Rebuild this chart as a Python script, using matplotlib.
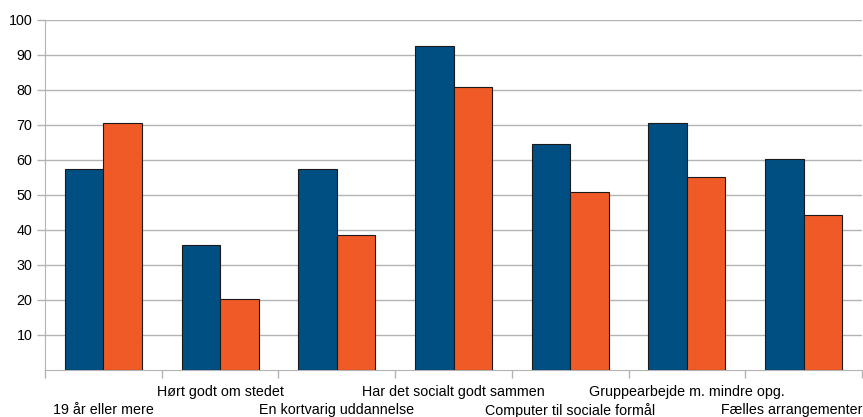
import matplotlib
matplotlib.use("Agg")
import matplotlib.pyplot as plt
import numpy as np

categories = ["19 år eller mere", "Hørt godt om stedet", "En kortvarig uddannelse",
              "Har det socialt godt sammen", "Computer til sociale formål",
              "Gruppearbejde m. mindre opg.", "Fælles arrangementer"]
series1 = [57.3, 35.7, 57.4, 92.3, 64.6, 70.5, 60.3]
series2 = [70.5, 20.2, 38.5, 80.6, 50.7, 55.2, 44.2]
yticks = [10, 20, 30, 40, 50, 60, 70, 80, 90, 100]

plt.rcParams['font.family'] = ['Liberation Sans', 'DejaVu Sans']

fig = plt.figure(figsize=(8.63, 4.17), dpi=100)
ax = fig.add_axes([45 / 863, 47 / 417, 817 / 863, 350.5 / 417])

x = np.arange(len(categories)) + 0.5
w = 0.33
ax.bar(x - w / 2, series1, w, color="#004f82", edgecolor="#1a1a1a", linewidth=0.8, zorder=3)
ax.bar(x + w / 2, series2, w, color="#f05a26", edgecolor="#1a1a1a", linewidth=0.8, zorder=3)

ax.set_xlim(0, len(categories))
ax.set_ylim(0, 100)
ax.set_yticks(yticks)
ax.set_yticklabels([str(v) for v in yticks], fontsize=10.3)
ax.yaxis.grid(True, color="#b3b3b3", linewidth=1, zorder=0)

ax.set_xticks(np.arange(len(categories) + 1))
ax.set_xticklabels([])
ax.tick_params(axis="both", color="#b3b3b3", length=6, width=1)
ax.tick_params(axis="y", pad=3)

for s in ["top", "right"]:
    ax.spines[s].set_visible(False)
for s in ["left", "bottom"]:
    ax.spines[s].set_color("#b3b3b3")

for i, lab in enumerate(categories):
    off = -11 if i % 2 == 1 else -24
    if i == len(categories) - 1:
        ax.annotate(lab, xy=(1.0, 0), xycoords="axes fraction",
                    xytext=(0, off), textcoords="offset points",
                    ha="right", va="top", fontsize=10.3)
    else:
        ax.annotate(lab, xy=(x[i], 0), xycoords=("data", "axes fraction"),
                    xytext=(0, off), textcoords="offset points",
                    ha="center", va="top", fontsize=10.3)

fig.savefig("out.png", dpi=100)
